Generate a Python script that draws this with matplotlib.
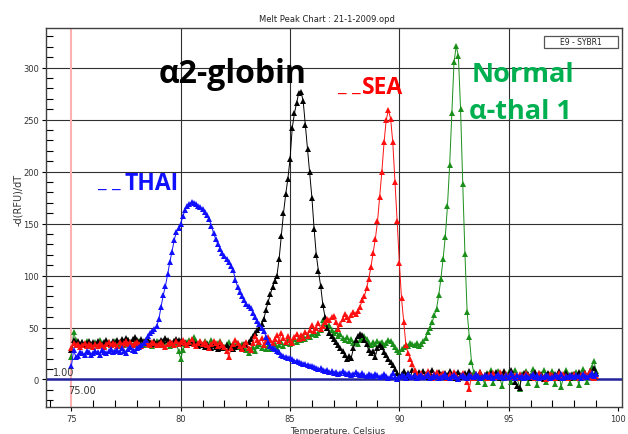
import numpy as np
import matplotlib
matplotlib.use('Agg')
import matplotlib.pyplot as plt
from matplotlib.patches import Rectangle
from matplotlib.ticker import MultipleLocator

# melt peak data, one reading every 0.1 C from 75.0 to 99.0
temps = np.round(np.linspace(75.0, 99.0, 241), 1)

thai = [13, 28, 22, 23, 26, 25, 24, 27, 26, 24,          # 75
        25, 27, 26, 24, 28, 26, 25, 27, 29, 26,          # 76
        27, 28, 26, 30, 27, 25, 29, 31, 28, 27,          # 77
        30, 31, 33, 35, 38, 42, 45, 47, 49, 51,          # 78
        58, 70, 81, 90, 101, 113, 123, 134, 142, 146,    # 79
        150, 157, 163, 167, 169, 171, 170, 169, 167, 166,  # 80
        164, 161, 158, 154, 148, 141, 135, 130, 126, 122,  # 81
        119, 116, 113, 109, 105, 96, 89, 84, 80, 76,     # 82
        73, 71, 69, 64, 60, 56, 53, 50, 47, 41,          # 83
        36, 32, 30, 29, 27, 26, 24, 23, 22, 21,          # 84
        21, 20, 18, 18, 17, 16, 15, 15, 14, 13,          # 85
        13, 12, 11, 10, 11, 9, 8, 9, 7, 8,               # 86
        6, 7, 5, 6, 8, 6, 5, 6, 4, 5,                    # 87
        7, 5, 4, 6, 4, 3, 5, 4, 3, 5,                    # 88
        4, 2, 3, 5, 3, 1, 3, 6, 2, 0,                    # 89
        2, 4, 3, 1, 5, 3, 2, 4, 1, 3,                    # 90
        4, 2, 3, 5, 1, 2, 4, 3, 1, 2,                    # 91
        3, 5, 2, 1, 3, 4, 2, 0, 3, 4,                    # 92
        2, 1, 4, 3, 2, 5, 3, 1, 2, 4,                    # 93
        3, 2, 4, 1, 3, 5, 2, 3, 1, 4,                    # 94
        2, 6, 3, 1, 4, 2, 3, 1, 4, 2,                    # 95
        3, 5, 2, 4, 1, 3, 2, 4, 3, 1,                    # 96
        2, 4, 3, 2, 5, 1, 3, 2, 4, 3,                    # 97
        2, 4, 3, 1, 5, 3, 2, 4, 6, 3,                    # 98
        5]

a2_globin = [28, 38, 35, 37, 34, 36, 33, 35, 37, 34,
             36, 34, 37, 35, 33, 36, 38, 35, 34, 37,
             35, 38, 36, 39, 37, 40, 38, 36, 39, 41,
             38, 36, 39, 37, 35, 38, 36, 34, 37, 35,
             36, 38, 37, 40, 38, 36, 35, 37, 39, 38,
             37, 35, 36, 33, 35, 38, 36, 34, 32, 34,
             33, 31, 34, 32, 30, 33, 31, 29, 32, 30,
             31, 33, 30, 32, 29, 31, 33, 32, 30, 34,
             33, 36, 39, 42, 45, 48, 50, 53, 58, 67,
             75, 82, 89, 95, 100, 116, 138, 160, 178, 193,
             212, 242, 256, 266, 276, 277, 268, 245, 222, 200,
             175, 145, 120, 104, 90, 72, 60, 50, 45, 42,
             39, 36, 33, 30, 27, 24, 20, 23, 21, 30,
             38, 42, 44, 43, 38, 34, 28, 25, 27, 22,
             30, 33, 31, 26, 24, 20, 17, 14, 10, 6,
             3, 5, 8, 4, 6, 2, 9, 5, 3, 7,
             4, 8, 5, 2, 6, 9, 4, 3, 7, 5,
             2, 6, 4, 8, 3, 1, 5, 7, 4, 2,
             6, 3, 8, 4, 1, 5, 3, 7, 2, 4,
             5, 2, 6, 3, 7, 4, 1, 5, 8, 3,
             4, 9, 2, -2, -6, -8, 3, 6, 2, 5,
             1, 4, 7, 3, 2, 5, 0, 4, 6, 2,
             3, 5, 1, 8, 4, 2, 6, 3, 1, 4,
             5, 2, 7, 3, 4, 6, 2, 8, 5, 11,
             6]

sea = [30, 35, 33, 34, 31, 33, 35, 32, 34, 33,
       31, 34, 32, 35, 33, 31, 34, 36, 33, 35,
       34, 32, 36, 33, 35, 37, 34, 36, 33, 35,
       36, 34, 32, 35, 37, 34, 33, 36, 35, 33,
       34, 36, 33, 31, 34, 36, 35, 33, 37, 34,
       36, 38, 35, 33, 36, 39, 34, 32, 35, 37,
       34, 36, 33, 30, 34, 37, 35, 32, 36, 33,
       31, 27, 22, 30, 34, 38, 35, 32, 29, 33,
       36, 30, 28, 35, 42, 38, 36, 40, 33, 37,
       41, 38, 35, 39, 43, 37, 45, 40, 36, 42,
       38, 35, 41, 44, 39, 43, 40, 46, 42, 48,
       52, 47, 50, 54, 49, 51, 55, 58, 57, 60,
       61, 55, 49, 53, 58, 63, 60, 57, 62, 65,
       63, 66, 70, 76, 80, 88, 97, 108, 122, 135,
       152, 176, 200, 228, 250, 259, 251, 228, 190, 152,
       112, 78, 55, 33, 25, 20, 15, 9, 5, 3,
       6, 2, 4, 8, 3, 1, 5, 7, 2, 4,
       6, 3, 1, 5, 2, 7, 4, 0, 3, 6,
       2, -2, -9, 4, 1, 5, 3, 7, 2, 4,
       1, 5, 3, 6, 2, 4, 7, 3, 1, 5,
       3, 6, 2, 4, 1, 5, 3, 2, 6, 4,
       2, 5, 1, 3, 6, 4, 2, 0, 3, 5,
       4, 1, 3, 6, 2, 5, 3, 1, 4, 2,
       5, 3, 1, 4, 2, 6, 3, 8, 2, 1,
       3]

normal = [22, 46, 38, 35, 33, 36, 34, 37, 35, 32,
          34, 36, 33, 38, 35, 32, 34, 36, 33, 35,
          37, 34, 32, 35, 33, 36, 38, 35, 33, 36,
          34, 37, 35, 33, 38, 36, 34, 32, 35, 37,
          35, 33, 36, 38, 35, 32, 34, 37, 35, 27,
          20, 28, 34, 36, 38, 35, 41, 37, 34, 36,
          33, 37, 35, 32, 38, 34, 31, 35, 37, 33,
          30, 34, 36, 32, 29, 33, 35, 31, 34, 30,
          28, 25, 29, 31, 27, 32, 34, 30, 33, 29,
          32, 29, 31, 34, 30, 33, 36, 32, 35, 38,
          34, 37, 39, 36, 40, 38, 42, 39, 43, 41,
          44, 46, 43, 45, 48, 57, 53, 50, 52, 48,
          45, 47, 42, 44, 40, 38, 41, 37, 39, 35,
          36, 34, 38, 40, 42, 39, 35, 33, 36, 34,
          37, 35, 36, 33, 35, 38, 37, 34, 31, 28,
          26, 29, 31, 33, 32, 35, 34, 33, 35, 32,
          34, 37, 40, 46, 50, 55, 62, 68, 81, 97,
          116, 137, 167, 206, 256, 305, 321, 311, 260, 188,
          121, 65, 41, 17, 7, 3, -2, 5, 1, -4,
          6, 2, 9, -3, 4, 8, 1, -6, 5, 3,
          7, -2, 4, 9, 1, -9, 5, 2, 8, -3,
          4, 10, 1, -5, 6, 3, 9, -2, 5, 1,
          8, -4, 3, 6, -7, 2, 9, 4, -3, 5,
          1, 7, -5, 4, 10, 2, -2, 6, 12, 18,
          8]

x_ticks = [75, 80, 85, 90, 95, 100]
y_ticks = [0, 50, 100, 150, 200, 250, 300]

fig = plt.figure(figsize=(6.28, 4.35), dpi=100)
ax = fig.add_axes([0.073, 0.062, 0.918, 0.871])

# grid lines
for xv in x_ticks[1:-1]:
    ax.axvline(xv, color='#303030', lw=0.8, zorder=1)
for yv in y_ticks[1:]:
    ax.axhline(yv, color='#303030', lw=0.8, zorder=1)
ax.axvline(75, color='#ffb0b0', lw=1.5, zorder=1)
ax.axhline(0, color='#23239a', lw=1.8, zorder=1)

ms = 4.2
series = [(normal, '#1a8f1a'), (a2_globin, 'black'), (sea, '#ff1010'), (thai, '#1010ff')]
for vals, col in series:
    ax.plot(temps, vals, color=col, lw=0.7, marker='^', ms=ms, mew=0, zorder=3)

ax.set_xlim(73.83, 100.2)
ax.set_ylim(-26.5, 338)
ax.set_xticks(x_ticks)
ax.set_yticks(y_ticks)
ax.xaxis.set_minor_locator(MultipleLocator(1))
ax.yaxis.set_minor_locator(MultipleLocator(10))
ax.tick_params(which='major', direction='out', length=3, width=0.8, labelsize=6,
               labelcolor='#333333', pad=2)
ax.tick_params(which='minor', direction='in', length=5, width=0.8)
for s in ax.spines.values():
    s.set_color('#404040')
    s.set_linewidth(1.0)

fig.text(0.521, 0.956, 'Melt Peak Chart : 21-1-2009.opd', fontsize=6, ha='center', va='center',
         color='#222222')
fig.text(0.028, 0.54, '-d(RFU)/dT', fontsize=7, rotation=90, ha='center', va='center',
         color='#333333')
fig.text(0.537, 0.008, 'Temperature, Celsius', fontsize=6.5, ha='center', va='center',
         color='#333333')
fig.text(0.101, 0.143, '1.00', fontsize=7, ha='center', va='center', color='#333333')
fig.text(0.131, 0.102, '75.00', fontsize=7, ha='center', va='center', color='#333333')

# sample label box
fig.patches.append(Rectangle((544 / 628, 1 - 48.5 / 435), 74 / 628, 11.5 / 435,
                             transform=fig.transFigure, fc='white', ec='#555555', lw=0.9))
fig.text(581 / 628, 1 - 42.7 / 435, 'E9 - SYBR1', fontsize=5.5, ha='center', va='center',
         color='#222222')

fam = ['Open Sans', 'DejaVu Sans']
ax.text(79.0, 294, 'α2-globin', fontsize=23, fontweight='bold', color='black',
        family=fam, va='center')
ax.text(87.2, 284, '_ _', fontsize=15, fontweight='bold', color='#ff0000', family=fam, va='center')
ax.text(88.3, 281, 'SEA', fontsize=16.5, fontweight='bold', color='#ff0000', family=fam,
        va='center')
ax.text(93.3, 294, 'Normal', fontsize=19.5, fontweight='bold', color='#00b050', family=fam,
        va='center')
ax.text(93.2, 258, 'α-thal 1', fontsize=19.5, fontweight='bold', color='#00b050', family=fam,
        va='center')
ax.text(76.2, 192, '_ _', fontsize=15, fontweight='bold', color='#1010ff', family=fam, va='center')
ax.text(77.45, 189, 'THAI', fontsize=16.5, fontweight='bold', color='#1010ff', family=fam,
        va='center')

fig.savefig('out.png', dpi=100)
